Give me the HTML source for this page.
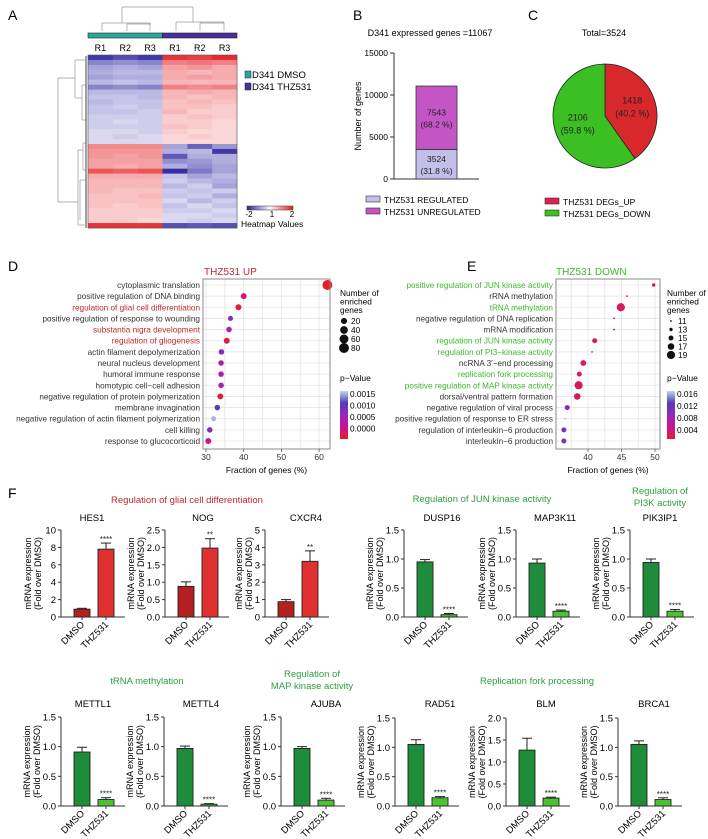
<!DOCTYPE html>
<html><head><meta charset="utf-8"><style>
html,body{margin:0;padding:0;background:#fff}
svg{display:block;font-family:"Liberation Sans",sans-serif}
</style></head><body>
<svg id="fig" width="708" height="839" viewBox="0 0 708 839" xmlns="http://www.w3.org/2000/svg">
<rect x="0" y="0" width="708" height="839" fill="#fff"/>
<text x="8" y="20" font-size="14">A</text>
<text x="353" y="20" font-size="14">B</text>
<text x="528" y="20" font-size="14">C</text>
<text x="8" y="271" font-size="14">D</text>
<text x="467" y="271" font-size="14">E</text>
<text x="8" y="498" font-size="14">F</text>
<g id="gA"></g>
<g id="gB"></g>
<g id="gC"></g>
<g id="gD"></g>
<g id="gE"></g>
<g id="gF"></g>
</svg>
<script>
// ---------- data ----------
const heatCols = ['R1','R2','R3','R1','R2','R3'];
const heatRows = [
[-1.8,-1.6,-1.8,1.8,1.7,1.9],[-1.1,-1.0,-1.1,1.1,1.2,1.1],[-0.8,-0.7,-0.8,0.8,0.9,0.7],[-0.7,-0.6,-0.6,0.7,0.6,0.7],
[-0.8,-0.7,-0.7,0.7,0.8,0.7],[-0.6,-0.5,-0.6,0.6,0.6,0.6],[-1.1,-1.0,-1.1,1.1,1.0,1.1],[-0.6,-0.6,-0.6,0.6,0.7,0.6],
[-0.5,-0.5,-0.6,0.6,0.5,0.6],[-0.6,-0.5,-0.5,0.5,0.6,0.5],[-0.5,-0.4,-0.5,0.5,0.5,0.4],[-0.5,-0.5,-0.4,0.6,0.4,0.4],
[-0.4,-0.4,-0.4,0.4,0.5,0.4],[-0.4,-0.3,-0.4,0.4,0.4,0.3],[-0.4,-0.4,-0.4,0.5,0.4,0.3],[-0.3,-0.3,-0.4,0.4,0.3,0.3],
[-0.3,-0.4,-0.3,0.3,0.4,0.3],[-0.3,-0.3,-0.3,0.3,0.3,0.3],
[1.0,1.0,1.0,-0.8,-1.4,-0.9],[0.9,0.9,0.9,-0.7,-0.6,-1.8],[0.9,0.8,0.9,-1.5,-0.7,-0.7],[0.8,0.8,0.8,-1.0,-0.9,-0.7],
[0.8,0.7,0.8,-0.7,-1.0,-0.8],[1.5,1.4,1.5,-1.9,-1.2,-0.8],[0.7,0.7,0.7,-0.5,-0.8,-0.6],[0.6,0.6,0.6,-0.4,-0.6,-0.7],
[0.6,0.6,0.6,-0.6,-0.4,-0.8],[0.6,0.5,0.5,-0.4,-0.5,-0.4],[0.5,0.5,0.6,-0.5,-0.4,-0.7],[0.5,0.5,0.5,-0.3,-0.6,-0.4],
[0.5,0.4,0.5,-0.5,-0.3,-0.5],[0.4,0.4,0.4,-0.4,-0.4,-0.3],[0.4,0.4,0.4,-0.3,-0.3,-0.4],[0.4,0.4,0.3,-0.3,-0.4,-0.3],
[1.8,1.8,1.8,-1.6,-1.5,-1.6]
];
const barBTotal = 11067;
const barBRegulated = 3524;
const barBUnregulated = 7543;
const barBTicks = [0,5000,10000,15000];
const pieLabels = ['THZ531 DEGs_UP','THZ531 DEGs_DOWN'];
const pieValues = [1418,2106];
const goUpTerms = ['cytoplasmic translation','positive regulation of DNA binding','regulation of glial cell differentiation','positive regulation of response to wounding','substantia nigra development','regulation of gliogenesis','actin filament depolymerization','neural nucleus development','humoral immune response','homotypic cell\u2212cell adhesion','negative regulation of protein polymerization','membrane invagination','negative regulation of actin filament polymerization','cell killing','response to glucocorticoid'];
const goUpFrac = [62.2,40.0,38.6,36.5,36.1,35.5,34.1,34.0,34.0,34.0,33.8,33.0,32.0,31.0,30.6];
const goUpCount = [80,18,18,10,14,18,14,14,14,14,18,14,10,14,18];
const goUpP = [0.0000,0.0003,0.0001,0.0010,0.0007,0.0001,0.0010,0.0007,0.0007,0.0007,0.0001,0.0013,0.0017,0.0010,0.0004];
const goUpHi = [0,0,1,0,1,1,0,0,0,0,0,0,0,0,0];
const goDownTerms = ['positive regulation of JUN kinase activity','rRNA methylation','tRNA methylation','negative regulation of DNA replication','mRNA modification','regulation of JUN kinase activity','regulation of PI3\u2212kinase activity','ncRNA 3\u2032\u2212end processing','replication fork processing','positive regulation of MAP kinase activity','dorsal/ventral pattern formation','negative regulation of viral process','positive regulation of response to ER stress','regulation of interleukin\u22126 production','interleukin\u22126 production'];
const goDownFrac = [49.8,45.8,44.9,43.9,43.9,41.0,40.6,39.3,38.7,38.6,38.4,36.9,36.6,36.4,36.4];
const goDownCount = [13,11,19,11,11,15,11,16,15,19,17,15,11,15,15];
const goDownP = [0.002,0.003,0.002,0.003,0.003,0.002,0.009,0.002,0.002,0.002,0.002,0.010,0.017,0.011,0.011];
const goDownHi = [1,0,1,0,0,1,1,0,1,1,0,0,0,0,0];
const geneNames = ['HES1','NOG','CXCR4','DUSP16','MAP3K11','PIK3IP1','METTL1','METTL4','AJUBA','RAD51','BLM','BRCA1'];
const dmsoMean = [0.90,0.88,0.88,0.95,0.93,0.94,0.91,0.97,0.97,1.05,1.27,1.05];
const dmsoErr  = [0.10,0.13,0.12,0.04,0.07,0.06,0.08,0.04,0.03,0.08,0.27,0.06];
const thzMean  = [7.8,1.98,3.2,0.04,0.10,0.10,0.11,0.03,0.10,0.14,0.18,0.11];
const thzErr   = [0.7,0.27,0.6,0.02,0.02,0.03,0.03,0.01,0.03,0.02,0.02,0.03];
const yMax     = [10,2.5,5,1.5,1.5,1.5,1.5,1.5,1.5,1.5,2.0,1.5];
const yStep    = [2,0.5,1,0.5,0.5,0.5,0.5,0.5,0.5,0.5,0.5,0.5];
const sigLabels = ['****','**','**','****','****','****','****','****','****','****','****','****'];

// ---------- helpers ----------
const NS='http://www.w3.org/2000/svg';
function mk(tag, attrs, parent){const e=document.createElementNS(NS,tag);for(const k in attrs)e.setAttribute(k,attrs[k]);parent.appendChild(e);return e;}
function txt(s, attrs, parent){const e=mk('text',attrs,parent);e.textContent=s;return e;}
function lerp(a,b,t){return Math.round(a+(b-a)*t);}
function heatColor(v){
  const t=Math.max(-2,Math.min(2,v))/2;
  if(t<0){const u=-t;return `rgb(${lerp(248,45,u)},${lerp(248,35,u)},${lerp(255,160,u)})`;}
  return `rgb(${lerp(255,228,t)},${lerp(248,30,t)},${lerp(248,35,t)})`;
}
function pColor(t){
  const stops=[[230,30,40],[200,20,150],[150,40,190],[80,60,180],[190,215,240]];
  const s=Math.max(0,Math.min(0.9999,t))*(stops.length-1);const i=Math.floor(s),f=s-i;
  const a=stops[i],b=stops[i+1];return `rgb(${lerp(a[0],b[0],f)},${lerp(a[1],b[1],f)},${lerp(a[2],b[2],f)})`;
}

// ---------- Panel A ----------
(function(){
  const g=document.getElementById('gA');
  const x0=88,x1=237,y0=55,y1=228;
  const cw=(x1-x0)/heatCols.length, rh=(y1-y0)/heatRows.length;
  const dg='#999';
  [[122,7,193,7],[122,7,122,23],[193,7,193,22],[102,23,150,23],[102,23,102,31],[150,23,150,31],[127,24,151,24],[127,24,127,31],
   [176,22,224,22],[176,22,176,31],[224,22,224,31],[200,23,224,23],[200,23,200,31]].forEach(l=>{
    const e=mk('line',{x1:l[0],y1:l[1],x2:l[2],y2:l[3],stroke:dg,'stroke-width':0.7},g);
    
    
  });
  const cb1=mk('rect',{x:x0,y:33,width:(x1-x0)/2,height:5,fill:'#2aa79b',stroke:'#222','stroke-width':0.6},g);
  
  
  const cb2=mk('rect',{x:x0+(x1-x0)/2,y:33,width:(x1-x0)/2,height:5,fill:'#4b2fa0',stroke:'#222','stroke-width':0.6},g);
  
  
  heatCols.forEach((c,i)=>{
    const t=txt(c,{x:x0+cw*(i+0.5),y:51,'font-size':9,'text-anchor':'middle'},g);
    
    
  });
  heatRows.forEach((row,r)=>{
    row.forEach((v,c)=>{
      const e=mk('rect',{x:x0+c*cw,y:y0+r*rh,width:cw+0.3,height:rh+0.3,fill:heatColor(v)},g);
      
      
    });
  });
  const fr=mk('rect',{x:x0,y:y0,width:x1-x0,height:y1-y0,fill:'none',stroke:'#555','stroke-width':0.6},g);
  
  
  [[58,78,58,202],[58,78,75,78],[58,202,78,202],[75,60,75,98],[75,60,85,60],[75,98,82,98],[82,85,82,120],[82,85,86,85],[82,120,86,120],
   [78,150,78,225],[78,150,83,150],[78,225,85,225],[83,143,83,170],[83,143,86,143],[83,170,86,170],[80,180,80,220],[80,180,86,180]].forEach(l=>{
    const e=mk('line',{x1:l[0],y1:l[1],x2:l[2],y2:l[3],stroke:dg,'stroke-width':0.7},g);
    
    
  });
  const lstub=mk('line',{x1:86,y1:56,x2:86,y2:228,stroke:'#444','stroke-width':1},g);
  
  
  [['D341 DMSO','#2aa79b',78],['D341 THZ531','#4b2fa0',90]].forEach(d=>{
    const s=mk('rect',{x:245,y:d[2]-7,width:6,height:7,fill:d[1],stroke:'#222','stroke-width':0.5},g);
    
    
    const t=txt(d[0],{x:252,y:d[2],'font-size':9.5},g);
    
    
  });
  const defs=mk('defs',{},g);
  const lg=mk('linearGradient',{id:'hmgrad',x1:0,x2:1,y1:0,y2:0},defs);
  [-2,-1,0,1,2].forEach((v,i)=>mk('stop',{offset:(i/4),'stop-color':heatColor(v)},lg));
  const cbar=mk('rect',{x:247,y:206,width:46,height:4,fill:'url(#hmgrad)',stroke:'#333','stroke-width':0.5},g);
  
  
  [['-2',249],['1',272],['2',292]].forEach(d=>{
    const t=txt(d[0],{x:d[1],y:217,'font-size':8,'text-anchor':'middle'},g);
    
    
  });
  const ht=txt('Heatmap Values',{x:241,y:227,'font-size':8.5},g);
  
  
})();

// ---------- Panel B ----------
(function(){
  const g=document.getElementById('gB');
  const ax=394, yb=179, yt=53;
  const y=v=>yb-(v-0)/(15000)*(yb-yt);
  const t0=txt('D341 expressed genes =11067',{x:430,y:36,'font-size':9,'text-anchor':'middle'},g);
  
  
  const yl=mk('line',{x1:ax,y1:yt,x2:ax,y2:yb,stroke:'#333','stroke-width':1},g);
  
  
  const xl=mk('line',{x1:ax,y1:yb,x2:479,y2:yb,stroke:'#333','stroke-width':1},g);
  
  
  barBTicks.forEach(v=>{
    const tk=mk('line',{x1:ax-4,y1:y(v),x2:ax,y2:y(v),stroke:'#333','stroke-width':1},g);
    
    
    const tl=txt(String(v),{x:ax-6,y:y(v)+3,'font-size':8.5,'text-anchor':'end'},g);
    
    
  });
  const yt2=txt('Number of genes',{x:0,y:0,'font-size':9,'text-anchor':'middle',transform:`translate(361,116) rotate(-90)`},g);
  
  
  const bx=416,bw=41;
  const b1=mk('rect',{x:bx,y:y(barBRegulated),width:bw,height:yb-y(barBRegulated),fill:'#c4bfea',stroke:'#333','stroke-width':0.8},g);
  
  
  const b2=mk('rect',{x:bx,y:y(barBTotal),width:bw,height:y(barBRegulated)-y(barBTotal),fill:'#c455c4',stroke:'#333','stroke-width':0.8},g);
  
  
  const pct=(v)=>'('+(v/barBTotal*100).toFixed(1)+' %)';
  [[barBUnregulated,(y(barBTotal)+y(barBRegulated))/2],[barBRegulated,(y(barBRegulated)+yb)/2]].forEach(d=>{
    const a=txt(String(d[0]),{x:bx+bw/2,y:d[1]-2,'font-size':8.5,'text-anchor':'middle',fill:'#222'},g);
    
    
    const b=txt(pct(d[0]),{x:bx+bw/2,y:d[1]+10,'font-size':8.5,'text-anchor':'middle',fill:'#222'},g);
    
    
  });
  [['THZ531 REGULATED','#c4bfea',203],['THZ531 UNREGULATED','#c455c4',215]].forEach(d=>{
    const s=mk('rect',{x:366,y:d[2]-7,width:14,height:6,fill:d[1],stroke:'#333','stroke-width':0.6},g);
    
    
    const t=txt(d[0],{x:384,y:d[2],'font-size':8.5},g);
    
    
  });
})();

// ---------- Panel C ----------
(function(){
  const g=document.getElementById('gC');
  const cx=605,cy=116,r=52;
  const t0=txt('Total=3524',{x:604,y:36,'font-size':9,'text-anchor':'middle'},g);
  
  
  const total=pieValues.reduce((a,b)=>a+b,0);
  const cols=['#d9282c','#3cbf22'];
  let a0=0;
  pieValues.forEach((v,i)=>{
    const a1=a0+v/total*2*Math.PI;
    const p=(a)=>[cx+r*Math.sin(a),cy-r*Math.cos(a)];
    const s=p(a0),e=p(a1);
    const path=mk('path',{d:`M${cx},${cy} L${s[0]},${s[1]} A${r},${r} 0 ${a1-a0>Math.PI?1:0} 1 ${e[0]},${e[1]} Z`,fill:cols[i],stroke:'#222','stroke-width':0.8},g);
    
    
    const am=(a0+a1)/2, lx=cx+r*0.55*Math.sin(am), ly=cy-r*0.55*Math.cos(am);
    const l1=txt(String(v),{x:lx,y:ly-4,'font-size':9,'text-anchor':'middle',fill:'#222'},g);
    
    
    const l2=txt('('+(v/total*100).toFixed(1)+' %)',{x:lx,y:ly+9,'font-size':9,'text-anchor':'middle',fill:'#222'},g);
    
    
    a0=a1;
  });
  [[pieLabels[0],'#e0204a',205],[pieLabels[1],'#3cbf22',217]].forEach(d=>{
    const s=mk('rect',{x:545,y:d[2]-7,width:14,height:6,fill:d[1],stroke:'#333','stroke-width':0.6},g);
    
    
    const t=txt(d[0],{x:563,y:d[2],'font-size':8.5},g);
    
    
  });
})();

// ---------- Panels D & E ----------
function goPlot(cfg){
  const g=document.getElementById(cfg.id);
  const {bx0,bx1,by0,by1}=cfg;
  const x=v=>cfg.px0+(v-cfg.v0)*cfg.ppu;
  const bg=mk('rect',{x:bx0,y:by0,width:bx1-bx0,height:by1-by0,fill:'#fff'},g);
  
  
  const n=cfg.terms.length;
  const rowY=i=>285+i*(441-285)/(n-1);
  cfg.grid.forEach(v=>{
    const l=mk('line',{x1:x(v),y1:by0,x2:x(v),y2:by1,stroke:'#e4e4e4','stroke-width':0.8},g);
    
    
  });
  cfg.terms.forEach((t,i)=>{
    const l=mk('line',{x1:bx0,y1:rowY(i),x2:bx1,y2:rowY(i),stroke:'#e4e4e4','stroke-width':0.8},g);
    
    
    const lab=txt(t,{x:bx0-3,y:rowY(i)+3,'font-size':8.2,'text-anchor':'end',fill:cfg.hi[i]?cfg.hiColor:'#333'},g);
    
    
  });
  cfg.terms.forEach((t,i)=>{
    const c=mk('circle',{cx:x(cfg.frac[i]),cy:rowY(i),r:cfg.rad(cfg.count[i]),fill:pColor(cfg.p[i]/cfg.pMax)},g);
    
    
  });
  const fr=mk('rect',{x:bx0,y:by0,width:bx1-bx0,height:by1-by0,fill:'none',stroke:'#888','stroke-width':1},g);
  
  
  cfg.ticks.forEach(v=>{
    const tk=mk('line',{x1:x(v),y1:by1,x2:x(v),y2:by1+3,stroke:'#555','stroke-width':0.8},g);
    
    
    const tl=txt(String(v),{x:x(v),y:by1+11,'font-size':8.5,'text-anchor':'middle',fill:'#333'},g);
    
    
  });
  const xt=txt('Fraction of genes (%)',{x:(bx0+bx1)/2,y:by1+24,'font-size':8.5,'text-anchor':'middle'},g);
  
  
  const tt=txt(cfg.title,{x:cfg.titleX,y:275,'font-size':10,fill:cfg.hiColor},g);
  
  
  const lx=cfg.lx;
  ['Number of','enriched','genes'].forEach((s,i)=>{
    const t=txt(s,{x:lx,y:296+i*8.5,'font-size':8.3},g);
    
    
  });
  cfg.sizeLeg.forEach((v,i)=>{
    const yy=cfg.sizeY0+i*cfg.sizeDy;
    const c=mk('circle',{cx:lx+4,cy:yy,r:cfg.rad(v),fill:'#111'},g);
    
    
    const t=txt(String(v),{x:lx+11,y:yy+3,'font-size':8.3},g);
    
    
  });
  const pt=txt('p\u2212Value',{x:lx,y:381,'font-size':8.5},g);
  
  
  const defs=mk('defs',{},g);
  const lg=mk('linearGradient',{id:cfg.id+'grad',x1:0,x2:0,y1:0,y2:1},defs);
  for(let i=0;i<=8;i++)mk('stop',{offset:i/8,'stop-color':pColor(1-i/8)},lg);
  const cb=mk('rect',{x:lx,y:391,width:8,height:48,fill:`url(#${cfg.id}grad)`},g);
  
  
  cfg.pLeg.forEach((s,i)=>{
    const yy=cfg.pY0+i*cfg.pDy;
    const t=txt(s,{x:lx+10,y:yy+3,'font-size':8.3},g);
    
    
  });
}
goPlot({id:'gD',bx0:203,bx1:330,by0:279,by1:449,px0:206,v0:30,ppu:3.77,grid:[30,35,40,45,50,55,60],ticks:[30,40,50,60],
  terms:goUpTerms,frac:goUpFrac,count:goUpCount,p:goUpP,pMax:0.0018,hi:goUpHi,hiColor:'#c0282d',
  rad:c=>1.2+Math.sqrt(c)*0.42,title:'THZ531 UP',titleX:204,lx:340,sizeLeg:[20,40,60,80],sizeY0:321,sizeDy:9,
  pLeg:['0.0015','0.0010','0.0005','0.0000'],pY0:394,pDy:11.5});
goPlot({id:'gE',bx0:556,bx1:660,by0:279,by1:449,px0:588,v0:40,ppu:6.7,grid:[37.5,40,42.5,45,47.5,50],ticks:[40,45,50],
  terms:goDownTerms,frac:goDownFrac,count:goDownCount,p:goDownP,pMax:0.018,hi:goDownHi,hiColor:'#3cb82a',
  rad:c=>0.9+(c-11)*0.4,title:'THZ531 DOWN',titleX:556,lx:667,sizeLeg:[11,13,15,17,19],sizeY0:321,sizeDy:8.5,
  pLeg:['0.016','0.012','0.008','0.004'],pY0:394,pDy:12});

// ---------- Panel F ----------
(function(){
  const g=document.getElementById('gF');
  const layout=[ // axis x, y bottom, y top, title x, title y, palette, fold-title baseline offset
    [61,617,530,92,521,'r',20],[165,617,530,203,521,'r',21],[265,617,530,306,521,'r',13],
    [404,617,530,442,521,'g',21],[516,617,530,555,521,'g',21],[630,617,530,660,521,'g',21],
    [61,806,717,93,707,'g',21],[164,806,717,201,707,'g',21],[281,806,717,326,707,'g',21],
    [395,806,718,440,707,'g',21],[506,806,718,546,707,'g',21],[618,806,718,654,707,'g',21]
  ];
  const pal={r:['#b3201f','#e03030'],g:['#1e8c3a','#4cc233']};
  const heads=[['Regulation of glial cell differentiation',187,503,'#c0282d'],['Regulation of JUN kinase activity',482,502,'#2e9e3a'],
    ['Regulation of',660,494,'#2e9e3a'],['PI3K activity',660,506,'#2e9e3a'],['tRNA methylation',147,684,'#2e9e3a'],
    ['Regulation of',312,677,'#2e9e3a'],['MAP kinase activity',312,689,'#2e9e3a'],['Replication fork processing',537,684,'#2e9e3a']];
  heads.forEach(h=>{
    const t=txt(h[0],{x:h[1],y:h[2],'font-size':9.5,'text-anchor':'middle',fill:h[3]},g);
    
    
  });
  geneNames.forEach((name,i)=>{
    const [ax,yb,yt,tx,ty,pk,off]=layout[i];
    const y=v=>yb-v/yMax[i]*(yb-yt);
    const sub=mk('g',{},g);
    
    
    const tt=txt(name,{x:tx,y:ty,'font-size':9.5,'text-anchor':'middle'},sub);
    
    
    const ya=mk('line',{x1:ax,y1:yt,x2:ax,y2:yb,stroke:'#333','stroke-width':1},sub);
    
    
    const xa=mk('line',{x1:ax,y1:yb,x2:ax+64,y2:yb,stroke:'#333','stroke-width':1},sub);
    
    
    const nt=Math.round(yMax[i]/yStep[i]);
    for(let k=0;k<=nt;k++){
      const v=k*yStep[i];
      const tk=mk('line',{x1:ax-3,y1:y(v),x2:ax,y2:y(v),stroke:'#333','stroke-width':1},sub);
      
      
      const lab=yStep[i]<1?v.toFixed(1):String(v);
      const tl=txt(lab,{x:ax-5,y:y(v)+3.5,'font-size':9.5,'text-anchor':'end'},sub);
      
      
    }
    const t1=txt('mRNA expression',{x:0,y:0,'font-size':9,'text-anchor':'middle',transform:`translate(${ax-off-10},${(yb+yt)/2}) rotate(-90)`},sub);
    
    
    const t2=txt('(Fold over DMSO)',{x:0,y:0,'font-size':9,'text-anchor':'middle',transform:`translate(${ax-off},${(yb+yt)/2}) rotate(-90)`},sub);
    
    
    const bars=[[dmsoMean[i],dmsoErr[i],ax+13,pal[pk][0],'DMSO'],[thzMean[i],thzErr[i],ax+37,pal[pk][1],'THZ531']];
    bars.forEach((b,j)=>{
      const [m,e,bx,col,lab]=b;
      const r=mk('rect',{x:bx,y:y(m),width:16,height:Math.max(0.5,yb-y(m)),fill:col,stroke:'#222','stroke-width':0.9},sub);
      
      
      const el=mk('line',{x1:bx+8,y1:y(m),x2:bx+8,y2:y(m+e),stroke:'#222','stroke-width':1},sub);
      
      
      const ec=mk('line',{x1:bx+3,y1:y(m+e),x2:bx+13,y2:y(m+e),stroke:'#222','stroke-width':1},sub);
      
      
      const tk=mk('line',{x1:bx+8,y1:yb,x2:bx+8,y2:yb+3,stroke:'#333','stroke-width':1},sub);
      
      
      const xl=txt(lab,{x:0,y:0,'font-size':9.5,'text-anchor':'end',transform:`translate(${bx+11},${yb+8}) rotate(-45)`},sub);
      
      
    });
    const sg=txt(sigLabels[i],{x:ax+45,y:y(thzMean[i]+thzErr[i])-1,'font-size':8,'text-anchor':'middle',fill:'#222'},sub);
    
    
  });
})();
</script>
</body></html>
